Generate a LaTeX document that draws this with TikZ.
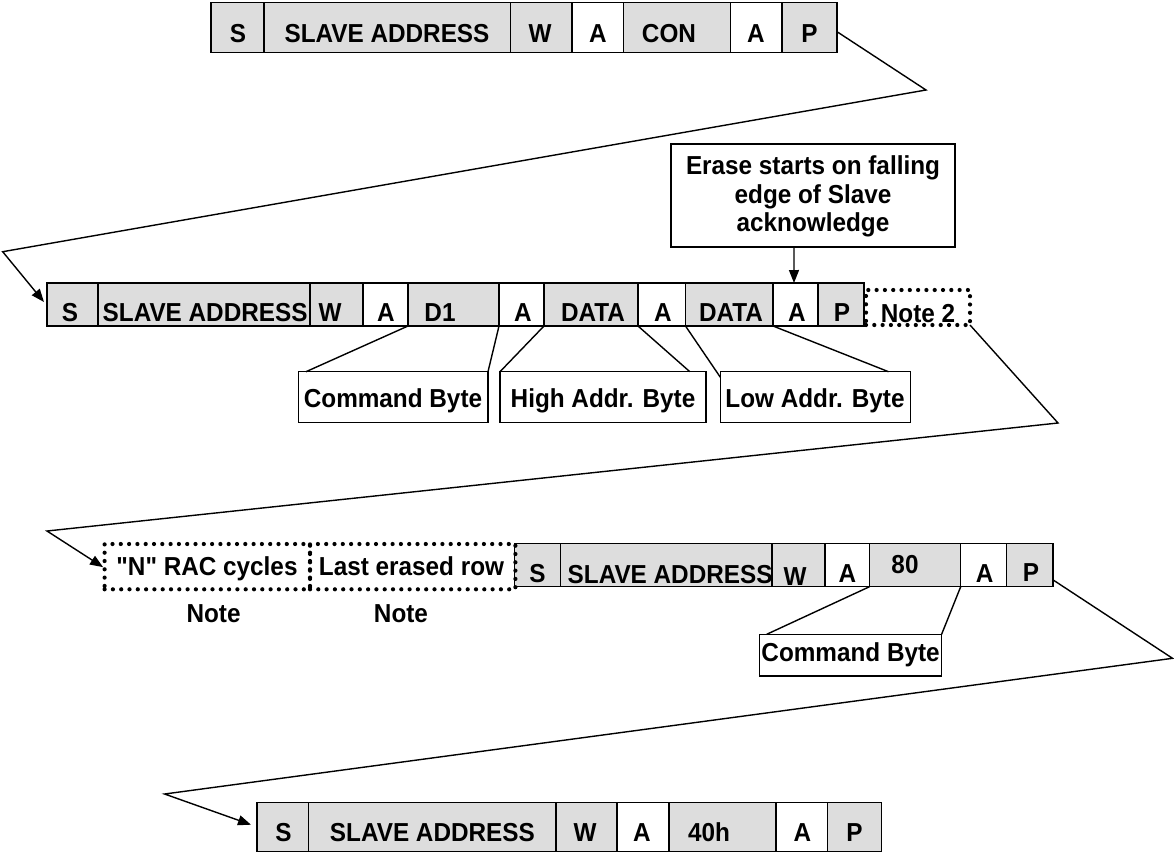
\documentclass[tikz,border=0pt]{standalone}
\usepackage{fontspec}
\newfontfamily\lab[FakeStretch=0.935]{Liberation Sans}
\usetikzlibrary{arrows.meta,calc}
\definecolor{gfill}{RGB}{221,221,221}
\newcommand\cellbox[6]{\node[#6, minimum width={(#4-#2)*1pt}, minimum height={(#5-#3)*1pt}, anchor=north west] (#1) at (#2,#3) {};}
\begin{document}
\begin{tikzpicture}[x=1pt,y=-1pt,
  base/.style={draw=black, line width=1.5pt, inner sep=0pt, outer sep=0pt},
  gcell/.style={base, fill=gfill},
  wcell/.style={base, fill=white},
  lblbox/.style={base, fill=white, line width=1.4pt},
  erasebox/.style={base, fill=white, line width=2pt},
  dotbox/.style={draw=black, line width=4.2pt, dash pattern=on 0pt off 8.3pt, line cap=round, inner sep=0pt, outer sep=0pt},
  txt/.style={font=\lab\bfseries\fontsize{26}{28.3}\selectfont, inner sep=0pt, anchor=base},
  txtw/.style={txt, anchor=base west},
  conn/.style={draw=black, line width=1.4pt},
  arr/.style={conn, -{Triangle[length=13pt,width=10pt]}}]
\useasboundingbox (0,0) rectangle (1174,854);
\fill[white] (0,0) rectangle (1174,854);

% ---------- Row 1 ----------
\cellbox{r1s}{211}{2.7}{264}{52.7}{gcell}
\cellbox{r1addr}{264}{2.7}{510.5}{52.7}{gcell}
\cellbox{r1w}{510.5}{2.7}{572}{52.7}{gcell}
\cellbox{r1a1}{572}{2.7}{623.5}{52.7}{wcell}
\cellbox{r1con}{623.5}{2.7}{730.5}{52.7}{gcell}
\cellbox{r1a2}{730.5}{2.7}{782}{52.7}{wcell}
\cellbox{r1p}{782}{2.7}{837}{52.7}{gcell}
\node[txt] (t1s) at (238,42.5) {S};
\node[txt] (t1addr) at (387,42.5) {SLAVE ADDRESS};
\node[txt] (t1w) at (540,42.5) {W};
\node[txt] (t1a1) at (598,42.5) {A};
\node[txt] (t1con) at (669,42.5) {CON};
\node[txt] (t1a2) at (756,42.5) {A};
\node[txt] (t1p) at (809.5,42.5) {P};

% ---------- Row 2 ----------
\cellbox{r2s}{47}{283}{98}{326}{gcell}
\cellbox{r2addr}{98}{283}{310}{326}{gcell}
\cellbox{r2w}{310}{283}{363}{326}{gcell}
\cellbox{r2a1}{363}{283}{408}{326}{wcell}
\cellbox{r2d1}{408}{283}{499}{326}{gcell}
\cellbox{r2a2}{499}{283}{544}{326}{wcell}
\cellbox{r2data1}{544}{283}{638}{326}{gcell}
\cellbox{r2a3}{638}{283}{685.5}{326}{wcell}
\cellbox{r2data2}{685.5}{283}{773}{326}{gcell}
\cellbox{r2a4}{773}{283}{818}{326}{wcell}
\cellbox{r2p}{818}{283}{864}{326}{gcell}
\node[txt] (t2s) at (70,321) {S};
\node[txtw] (t2addr) at (102.5,321) {SLAVE ADDRESS};
\node[txt] (t2w) at (330,321) {W};
\node[txt] (t2a1) at (386,321) {A};
\node[txt] (t2d1) at (440,321) {D1};
\node[txt] (t2a2) at (523,321) {A};
\node[txt] (t2data1) at (593,321) {DATA};
\node[txt] (t2a3) at (663,321) {A};
\node[txt] (t2data2) at (731,321) {DATA};
\node[txt] (t2a4) at (797,321) {A};
\node[txt] (t2p) at (842,321) {P};
\cellbox{note2}{866}{290}{970}{325}{dotbox}
\node[txt] (tnote2) at (918,322) {Note 2};

% erase note
\cellbox{erase}{670.6}{144}{955.3}{247.3}{erasebox}
\node[txt, anchor=center, align=center] (terase) at (813,196.5) {Erase starts on falling\\edge of Slave\\acknowledge};
\draw[arr] ([xshift=-19pt]erase.south) -- ([xshift=-1.5pt]r2a4.north);

% byte labels row 2
\cellbox{cmd1}{298.5}{371.7}{488}{422.7}{lblbox}
\cellbox{high}{500}{371.7}{705.8}{422.7}{lblbox}
\cellbox{low}{720.3}{371.7}{910.5}{422.7}{lblbox}
\node[txt] (tcmd1) at (393,407.5) {Command Byte};
\node[txt] (thigh) at (603,407.5) {High Addr. Byte};
\node[txt] (tlow) at (815,407.5) {Low Addr. Byte};
\draw[conn] (r2d1.south west) -- ($(cmd1.north west)+(7.5,0)$);
\draw[conn] (r2d1.south east) -- (cmd1.north east);
\draw[conn] (r2a2.south east) -- (high.north west);
\draw[conn] (r2data1.south east) -- ($(high.north east)+(-16,0)$);
\draw[conn] (r2a3.south east) -- ($(low.north west)+(0,5.5)$);
\draw[conn] (r2data2.south east) -- ($(low.north east)+(-22,0)$);

% ---------- Row 3 ----------
\cellbox{r3s}{514.5}{543.3}{560.6}{586.7}{gcell}
\cellbox{r3addr}{560.6}{543.3}{772.1}{586.7}{gcell}
\cellbox{r3w}{772.1}{543.3}{825.2}{586.7}{gcell}
\cellbox{r3a1}{825.2}{543.3}{869.5}{586.7}{wcell}
\cellbox{r3d80}{869.5}{543.3}{960.7}{586.7}{gcell}
\cellbox{r3a2}{960.7}{543.3}{1006.7}{586.7}{wcell}
\cellbox{r3p}{1006.7}{543.3}{1053.2}{586.7}{gcell}
\node[txt] (t3s) at (537.5,582) {S};
\node[txtw] (t3addr) at (567.5,583.5) {SLAVE ADDRESS};
\node[txt] (t3w) at (795,585) {W};
\node[txt] (t3a1) at (847.4,582) {A};
\node[txt] (t380) at (905,573) {80};
\node[txt] (t3a2) at (984.6,582) {A};
\node[txt] (t3p) at (1031,581) {P};
\cellbox{rac}{104.6}{544}{310}{589.3}{dotbox}
\cellbox{ler}{310}{544}{515.4}{589.3}{dotbox}
\node[txt] (trac) at (207,575) {"N" RAC cycles};
\node[txt] (tler) at (411.5,575) {Last erased row};
\node[txt] (tnotea) at (213.6,622.7) {Note};
\node[txt] (tnoteb) at (401,622.7) {Note};

\cellbox{cmd2}{759.7}{634.3}{941.6}{676}{lblbox}
\node[txt] (tcmd2) at (850.6,661.5) {Command Byte};
\draw[conn] (r3a1.south east) -- ($(cmd2.north west)+(7,0)$);
\draw[conn] (r3d80.south east) -- (cmd2.north east);

% ---------- Row 4 ----------
\cellbox{r4s}{257}{802.7}{308.7}{851.7}{gcell}
\cellbox{r4addr}{308.7}{802.7}{556}{851.7}{gcell}
\cellbox{r4w}{556}{802.7}{616.8}{851.7}{gcell}
\cellbox{r4a1}{616.8}{802.7}{669}{851.7}{wcell}
\cellbox{r4d40}{669}{802.7}{776}{851.7}{gcell}
\cellbox{r4a2}{776}{802.7}{827.7}{851.7}{wcell}
\cellbox{r4p}{827.7}{802.7}{881.7}{851.7}{gcell}
\node[txt] (t4s) at (283.5,841.7) {S};
\node[txt] (t4addr) at (432.4,841.7) {SLAVE ADDRESS};
\node[txt] (t4w) at (585,841.7) {W};
\node[txt] (t4a1) at (642,841.7) {A};
\node[txt] (t4d40) at (709,841.7) {40h};
\node[txt] (t4a2) at (802.5,841.7) {A};
\node[txt] (t4p) at (854.5,841.7) {P};

% ---------- long connectors ----------
\coordinate (v1a) at (926,90);
\coordinate (v1b) at (2.7,251.7);
\draw[arr] ($(r1p.east)+(0,4)$) -- (v1a) -- (v1b) -- ($(r2s.north west)+(-3,19)$);
\coordinate (v2a) at (1058,423);
\coordinate (v2b) at (47,531);
\draw[arr] (note2.south east) -- (v2a) -- (v2b) -- ($(rac.west)+(-1.5,0.5)$);
\coordinate (v3a) at (1172.5,658.3);
\coordinate (v3b) at (164.6,794);
\draw[arr] ($(r3p.east)+(0,15)$) -- (v3a) -- (v3b) -- ($(r4s.north west)+(-6,22)$);
\end{tikzpicture}
\end{document}
